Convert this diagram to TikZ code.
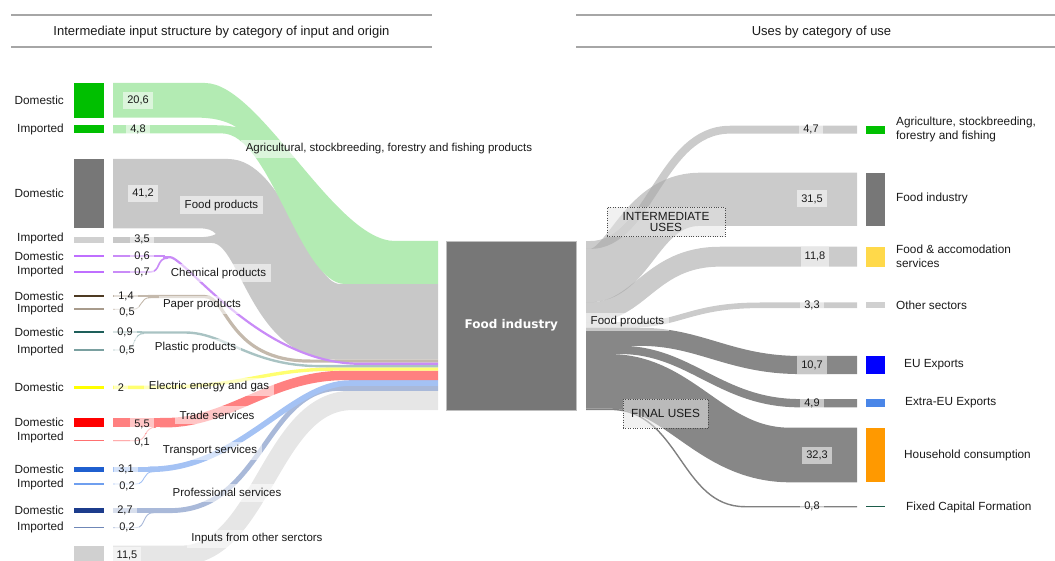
\documentclass[tikz,border=0pt]{standalone}
\usepackage{fontspec}
\setmainfont{Liberation Sans}
\newfontfamily\boxfont{DejaVu Sans}
% source bars
\definecolor{cAgri}{HTML}{00BF00}
\definecolor{cFoodD}{HTML}{777777}
\definecolor{cFoodI}{HTML}{D0D0D0}
\definecolor{cChem}{HTML}{BF6FFF}
\definecolor{cPapD}{HTML}{4D3A22}
\definecolor{cPapI}{HTML}{A89B8C}
\definecolor{cPlaD}{HTML}{1E5F5A}
\definecolor{cPlaI}{HTML}{7AA0A0}
\definecolor{cElec}{HTML}{FFFF00}
\definecolor{cTraD}{HTML}{FF0000}
\definecolor{cTraI}{HTML}{FF7070}
\definecolor{cTpD}{HTML}{1F5FCF}
\definecolor{cTpI}{HTML}{6F9FEF}
\definecolor{cPrD}{HTML}{1C3C8C}
\definecolor{cPrI}{HTML}{6F87B7}
\definecolor{cOth}{HTML}{D0D0D0}
% input flows
\definecolor{fAgri}{HTML}{B3EBB3}
\definecolor{fFood}{HTML}{C8C8C8}
\definecolor{fChem}{HTML}{C98BF7}
\definecolor{fPap}{HTML}{C4B9AC}
\definecolor{fPla}{HTML}{A9C3C3}
\definecolor{fElec}{HTML}{FFFF70}
\definecolor{fTra}{HTML}{FF8080}
\definecolor{fTp}{HTML}{A4C2F4}
\definecolor{fPr}{HTML}{A9B9D9}
\definecolor{fOth}{HTML}{E6E6E6}
% output flows and legend
\definecolor{fInt}{HTML}{A8A8A8}
\definecolor{fFin}{HTML}{878787}
\definecolor{lAgri}{HTML}{00C000}
\definecolor{lFood}{HTML}{777777}
\definecolor{lFA}{HTML}{FFD94A}
\definecolor{lOth}{HTML}{D0D0D0}
\definecolor{lEU}{HTML}{0000FF}
\definecolor{lXEU}{HTML}{4A86E8}
\definecolor{lHH}{HTML}{FF9900}
\definecolor{lFCF}{HTML}{1D5C4A}
\definecolor{rulec}{HTML}{A6A6A6}
\definecolor{txt}{HTML}{1A1A1A}
\begin{document}
\begin{tikzpicture}[x=1pt,y=-1pt,
  lbl/.style={font=\fontsize{11.8}{13.3}\selectfont, inner sep=0pt, text=txt},
  hdr/.style={font=\fontsize{13}{15}\selectfont, inner sep=0pt, text=txt},
  val/.style={font=\fontsize{11}{13}\selectfont, text=txt, fill=white, fill opacity=0.55, text opacity=1,
              inner xsep=4pt, inner ysep=0pt, minimum height=17pt},
  cat/.style={font=\fontsize{11.5}{13}\selectfont, text=txt, fill=white, fill opacity=0.55, text opacity=1,
              inner xsep=4.5pt, inner ysep=0pt, minimum height=18pt},
  grp/.style={font=\fontsize{11.8}{13}\selectfont, text=txt, align=center, draw=black!70, dotted,
              fill=black!10, fill opacity=0.55, text opacity=1, draw opacity=1, inner sep=0pt},
  flow/.style={line cap=butt, line join=round},
  bar/.style={inner sep=0pt, outer sep=0pt, minimum width=30pt},
  leg/.style={inner sep=0pt, outer sep=0pt, minimum width=19pt},
]
\useasboundingbox (0,0) rectangle (1055,561);

% ---------- headers ----------
\draw[rulec, line width=2pt] (11,15) -- (432,15) (11,47) -- (432,47);
\draw[rulec, line width=2pt] (576,15) -- (1055,15) (576,47) -- (1055,47);
\node[hdr] (hL) at (221.5,32) {Intermediate input structure by category of input and origin};
\node[hdr] (hR) at (821.5,32) {Uses by category of use};

% ---------- input flows (into the food industry, x = 438) ----------
% inputs from other sectors
\draw[flow, draw=fOth, line width=19.4pt] (113,555.4) -- (180,555.4) .. controls (262,555.4) and (270,400.4) .. (352,400.4) -- (438,400.4);
% food products: domestic (top) and imported (bottom) strips merging into one band
\fill[fFood] (113,159) -- (228,159) .. controls (285,159) and (310,284) .. (340,284) -- (438,284)
  -- (438,359.5) -- (335,359.5) .. controls (252,359.5) and (240,243) .. (212,243) -- (113,243)
  -- (113,237.1) -- (200,237.1) .. controls (208,237.1) and (212,236) .. (216,234)
  .. controls (212,230) and (208,228.4) .. (200,228.4) -- (113,228.4) -- cycle;
% agricultural products: domestic and imported strips merging into one band
\fill[fAgri] (113,83) -- (205,83) .. controls (260,83) and (335,241) .. (395,241) -- (438,241)
  -- (438,284) -- (345,284) .. controls (300,284) and (270,133.4) .. (222,133.4) -- (113,133.4)
  -- (113,125.2) -- (212,125.2) .. controls (224,125.2) and (230,125.8) .. (237,127.5)
  .. controls (225,120) and (212,117.6) .. (195,117.6) -- (113,117.6) -- cycle;
% professional services
\draw[flow, draw=fPr, line width=4.6pt] (113,510.4) -- (152,510.4);
\draw[flow, draw=fPr, line width=0.9pt] (113,527.7) -- (136,527.7) .. controls (146,527.7) and (142,512.5) .. (154,512.5);
\draw[flow, draw=fPr, line width=4.9pt] (150,510.6) -- (170,510.6) .. controls (262,510.6) and (265,388.3) .. (340,388.3) -- (438,388.3);
% transport services
\draw[flow, draw=fTp, line width=5.2pt] (113,469.1) -- (152,469.1);
\draw[flow, draw=fTp, line width=0.9pt] (113,484) -- (136,484) .. controls (146,484) and (142,471.5) .. (154,471.5);
\draw[flow, draw=fTp, line width=5.6pt] (148,469.3) -- (150,469.3) .. controls (240,469.3) and (290,383) .. (350,383) -- (438,383);
% trade services
\draw[flow, draw=fTra, line width=9.3pt] (113,422.6) -- (162,422.6);
\draw[flow, draw=fTra, line width=0.9pt] (113,440.7) -- (136,440.7) .. controls (148,440.7) and (143,427.2) .. (156,427.2);
\draw[flow, draw=fTra, line width=9.5pt] (160,422.7) -- (165,422.7) .. controls (230,422.7) and (270,375.4) .. (345,375.4) -- (438,375.4);
% electric energy and gas
\draw[flow, draw=fElec, line width=3.4pt] (113,387.3) -- (150,387.3) .. controls (250,387.3) and (260,369) .. (340,369) -- (438,369);
% plastic products
\draw[flow, draw=fPla, line width=1.5pt] (113,332) -- (142,332);
\draw[flow, draw=fPla, line width=0.9pt] (113,350) -- (126,350) .. controls (136,350) and (132,333.5) .. (144,333.5);
\draw[flow, draw=fPla, line width=2.4pt] (140,332.5) -- (185,332.5) .. controls (225,332.5) and (250,366.1) .. (320,366.1) -- (438,366.1);
% paper products
\draw[flow, draw=fPap, line width=2.4pt] (113,296) -- (150,296);
\draw[flow, draw=fPap, line width=0.9pt] (113,309.3) -- (133,309.3) .. controls (143,309.3) and (139,297.5) .. (151,297.5);
\draw[flow, draw=fPap, line width=3.2pt] (148,296.6) -- (205,296.6) .. controls (228,296.6) and (228,361.1) .. (310,361.1) -- (438,361.1);
% chemical products
\draw[flow, draw=fChem, line width=1.6pt] (113,256.3) -- (165,256.3);
\draw[flow, draw=fChem, line width=1.6pt] (113,272) -- (150,272) .. controls (161,272) and (156,258) .. (168,258);
\draw[flow, draw=fChem, line width=2.2pt] (163,257.2) -- (170,257.2) .. controls (185,257.2) and (260,363.8) .. (360,363.8) -- (438,363.8);

% ---------- output flows (from the food industry, x = 586) ----------
\begin{scope}[draw opacity=0.6]
\draw[flow, draw=fInt, line width=53.2pt] (586,275.6) -- (590,275.6) .. controls (630,275.6) and (640,199.3) .. (700,199.3) -- (857,199.3);
\draw[flow, draw=fInt, line width=7.9pt] (586,245) -- (590,245) .. controls (650,245) and (660,129.7) .. (730,129.7) -- (857,129.7);
\draw[flow, draw=fInt, line width=19.9pt] (586,312.2) -- (590,312.2) .. controls (640,312.2) and (650,256.7) .. (720,256.7) -- (857,256.7);
\draw[flow, draw=fInt, line width=5.6pt] (586,324.9) -- (630,324.9) .. controls (680,324.9) and (690,305.3) .. (760,305.3) -- (857,305.3);
\end{scope}
\draw[flow, draw=fFin, line width=18.1pt] (586,336.8) -- (640,336.8) .. controls (700,336.8) and (730,365) .. (800,365) -- (857,365);
\draw[flow, draw=fFin, line width=8.3pt] (586,349.9) -- (620,349.9) .. controls (690,349.9) and (720,403.2) .. (800,403.2) -- (857,403.2);
\draw[flow, draw=fFin, line width=54.6pt] (586,381.4) -- (610,381.4) .. controls (680,381.4) and (710,455) .. (790,455) -- (857,455);
\draw[flow, draw=fFin!95!black, line width=1.4pt] (586,409.4) -- (610,409.4) .. controls (680,409.4) and (680,506.7) .. (745,506.7) -- (857,506.7);

% ---------- central node ----------
\node[fill=cFoodD, draw=black!25, line width=0.8pt, minimum width=129.3pt, minimum height=169pt, inner sep=0pt,
      text=white, font=\boxfont\bfseries\fontsize{12}{14}\selectfont] (fi) at (511.3,325.5) {Food industry};

% ---------- source bars ----------
\node[bar, fill=cAgri,  minimum height=34.6pt] (agD) at (89,100.3) {};
\node[bar, fill=cAgri,  minimum height=8.1pt]  (agI) at (89,129.3) {};
\node[bar, fill=cFoodD, minimum height=69.6pt] (foD) at (89,193.7) {};
\node[bar, fill=cFoodI, minimum height=5.9pt]  (foI) at (89,240) {};
\node[bar, fill=cChem,  minimum height=2pt]    (chD) at (89,256.3) {};
\node[bar, fill=cChem,  minimum height=2pt]    (chI) at (89,272) {};
\node[bar, fill=cPapD,  minimum height=2.6pt]  (paD) at (89,296) {};
\node[bar, fill=cPapI,  minimum height=1.6pt]  (paI) at (89,309.3) {};
\node[bar, fill=cPlaD,  minimum height=2pt]    (plD) at (89,332) {};
\node[bar, fill=cPlaI,  minimum height=1.6pt]  (plI) at (89,350) {};
\node[bar, fill=cElec,  minimum height=3.4pt]  (elD) at (89,387.3) {};
\node[bar, fill=cTraD,  minimum height=9.3pt]  (trD) at (89,422.6) {};
\node[bar, fill=cTraI,  minimum height=1.4pt]  (trI) at (89,440.7) {};
\node[bar, fill=cTpD,   minimum height=5.2pt]  (tpD) at (89,469.1) {};
\node[bar, fill=cTpI,   minimum height=1.4pt]  (tpI) at (89,484) {};
\node[bar, fill=cPrD,   minimum height=4.6pt]  (prD) at (89,510.4) {};
\node[bar, fill=cPrI,   minimum height=1.4pt]  (prI) at (89,527.7) {};
\node[bar, fill=cOth,   minimum height=19.4pt] (otD) at (89,555.4) {};

% ---------- origin labels ----------
\foreach \nm/\yy/\tx in {a/100.3/Domestic, b/129/Imported, c/193.7/Domestic, d/238.5/Imported,
    e/256/Domestic, f/271.5/Imported, g/296/Domestic, h/309.3/Imported, i/332/Domestic,
    j/350/Imported, k/387.3/Domestic, l/422.5/Domestic, m/437.7/Imported, n/469/Domestic,
    o/484/Imported, p/510/Domestic, q/527.7/Imported}
  \node[lbl, anchor=east] (or\nm) at (64,\yy) {\tx};

% ---------- input values ----------
\node[val] (v1)  at (138,100.3) {20,6};
\node[val] (v2)  at (138,129.3) {4,8};
\node[val] (v3)  at (143,193.7) {41,2};
\node[val] (v4)  at (142,239)   {3,5};
\node[val] (v5)  at (142,256.3) {0,6};
\node[val] (v6)  at (142,272)   {0,7};
\node[val] (v7)  at (126,296)   {1,4};
\node[val] (v8)  at (127,312.5) {0,5};
\node[val] (v9)  at (125,332)   {0,9};
\node[val] (v10) at (127,350)   {0,5};
\node[val] (v11) at (121,387.5) {2};
\node[val] (v12) at (142,424)   {5,5};
\node[val] (v13) at (142,442)   {0,1};
\node[val] (v14) at (126,469.5) {3,1};
\node[val] (v15) at (127,486.5) {0,2};
\node[val] (v16) at (125,510)   {2,7};
\node[val] (v17) at (127,527.5) {0,2};
\node[val] (v18) at (127,555)   {11,5};

% ---------- input categories ----------
\node[cat] (kAg) at (389,149)   {Agricultural, stockbreeding, forestry and fishing products};
\node[cat] (kFo) at (221.5,205.5) {Food products};
\node[cat] (kCh) at (218.5,273.5) {Chemical products};
\node[cat] (kPa) at (202,305)   {Paper products};
\node[cat] (kPl) at (195.5,348) {Plastic products};
\node[cat] (kEl) at (209,386.5) {Electric energy and gas};
\node[cat] (kTr) at (217,415)   {Trade services};
\node[cat] (kTp) at (210,451)   {Transport services};
\node[cat] (kPr) at (227,492.5) {Professional services};
\node[cat] (kOt) at (257,538.5) {Inputs from other serctors};

% ---------- output side ----------
\node[cat] (kFp) at (627.5,322) {Food products};
\node[grp, minimum width=118pt, minimum height=29.4pt] (gInt) at (666,222) {INTERMEDIATE\\[-1.5pt]USES};
\node[grp, minimum width=85pt, minimum height=29.6pt] (gFin) at (665.5,413.5) {FINAL USES};

\node[val] (w1) at (811,129.7) {4,7};
\node[val] (w2) at (812,199)   {31,5};
\node[val, minimum height=19.9pt] (w3) at (815,256.7) {11,8};
\node[val] (w4) at (812,305.3) {3,3};
\node[val, minimum height=18.1pt] (w5) at (812,365)   {10,7};
\node[val] (w6) at (812,403.2) {4,9};
\node[val] (w7) at (817,455)   {32,3};
\node[val] (w8) at (812,506.7) {0,8};

\node[leg, fill=lAgri, minimum height=7.9pt]  (dAg) at (875.5,129.7) {};
\node[leg, fill=lFood, minimum height=53.2pt] (dFo) at (875.5,199.3) {};
\node[leg, fill=lFA,   minimum height=19.9pt] (dFA) at (875.5,256.7) {};
\node[leg, fill=lOth,  minimum height=5.6pt]  (dOt) at (875.5,305.3) {};
\node[leg, fill=lEU,   minimum height=18.1pt] (dEU) at (875.5,365) {};
\node[leg, fill=lXEU,  minimum height=8.3pt]  (dXE) at (875.5,403.2) {};
\node[leg, fill=lHH,   minimum height=54.6pt] (dHH) at (875.5,455) {};
\node[leg, fill=lFCF,  minimum height=1.4pt]  (dFC) at (875.5,506.7) {};

\node[lbl, anchor=west, align=left] (tAg) at (896,129.5) {Agriculture, stockbreeding,\\forestry and fishing};
\node[lbl, anchor=west] (tFo) at (896,198.3) {Food industry};
\node[lbl, anchor=west, align=left] (tFA) at (896,256.4) {Food \& accomodation\\services};
\node[lbl, anchor=west] (tOt) at (896,305) {Other sectors};
\node[lbl, anchor=west] (tEU) at (904,365) {EU Exports};
\node[lbl, anchor=west] (tXE) at (905,403) {Extra-EU Exports};
\node[lbl, anchor=west] (tHH) at (904,455) {Household consumption};
\node[lbl, anchor=west] (tFC) at (906,507) {Fixed Capital Formation};
\end{tikzpicture}
\end{document}
